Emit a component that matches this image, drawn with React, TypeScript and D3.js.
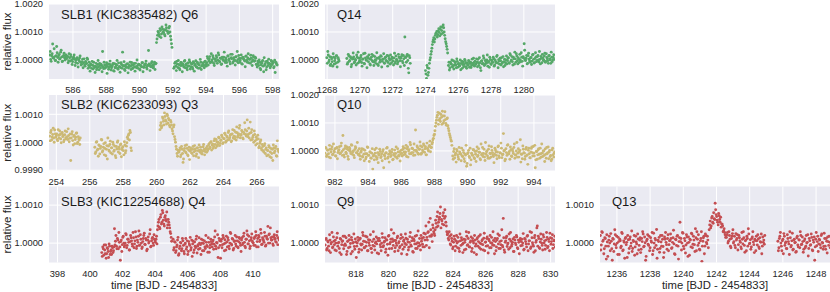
import React from "react";
import * as d3 from "d3";

// Kepler long-cadence light curves around the self-lensing pulses.
// Flux values are offsets from 1 in units of 1e-5 (flux = 1 + v * 1e-5).
// Each segment holds two interleaved sample runs: v starts at t0, w half a step later.
const CADENCE = 0.06;

// SLB1 Q6
const q6A = [18, 2, 14, 57, 6, 12, -2, 48, 9, 15, 3, 28, 11, -4, 16, 7, 10,
  4, 13, -3, 8, 19, 0, -6, 10, 2, -9, 5, -12, 1, 7, -8, -15, 3, -10, -18, -5, -13, 2, -20,
  -25, -14, -30, -19, -8, -27, -22, -35, -16, -24, -12, -29, -20, 30, -31, -18, -26, -10, -23, -33,
  -15, -21, -28, -17, -38, -13, -25, -19, -30, -11, -24, -27, -16, 28, -22, -34, -18, -26, -14, -29,
  -20, -23, -9, -31, -17, -25, -12, -28, -21, -15, -32, -19, -24, -10, -26, -18, -13, -27, -20, 34,
  -16, -23, -11, -19, -25, -8, -14];
const q6A2 = [30, -5, 22, 8, 40, -2, 15, 26, -8, 20, 5, 35, -6, 12, 24, 0, 18,
  10, -10, 22, -4, 12, -16, 5, 18, -20, 0, 8, -25, -3, 14, -18, -6, -28, 4, -22, -12, 6, -30, -8,
  -40, -18, -5, -32, -22, -45, -12, -28, -2, -35, -20, -15, -42, -25, -8, -30, -18, -48, -14, -26,
  -4, -36, -22, -12, -40, -28, -16, -2, -33, -24, -44, -10, -30, -20, -6, -38, -26, -14, -46, -22,
  -8, -34, -18, -28, -12, -40, -24, 0, -30, -16, -36, -22, -10, -42, -26, -18, -4, -32, -20, -14,
  -38, -24, -6, -28, -16, -34, -12];
const q6B = [62, 88, 97, 84, 105, 93, 110, 99, 91, 107, 115, 102, 96, 120, 85, 58];
const q6B2 = [75, 102, 90, 112, 80, 118, 98, 108, 86, 125, 104, 95, 114, 100, 72, 45];
const q6C = [-30, -12, -22, -5, -27, -16, -35, -9, -20, -14, -25, -2, -18, -28, -11, -21, -7, -24, -15, -32,
  -10, -19, -3, -26, -13, -17, -29, -8, -22, -14, -20, -6, -16,
  -10, 5, -4, 12, -8, 0, 15, -12, 3, -5, 9, -1, 18, -7, 6, -14, 2, 10, -3, 7, -9, 14, 0, -6, 20,
  4, -11, 8, -2, 11, -5, 1, 16, -8, 5, -13, 9, 3, -4, 13, -1, 7, -10, 2, 17, -6, 0, 10, -3, 6,
  -15, -4, -20, -8, -35, -12, -2, -42, -18, -6, -25, -10, 3, -14, -22, -5, -11, -28, -1, -9, -16];
const q6C2 = [-25, -8, -38, -15, -2, -30, -20, -10, -42, -18, -5, -28, -14, -35, -22, 0, -32, -12, -26, -6,
  -40, -16, -24, -8, -30, -18, 2, -34, -20, -10, -28, -4, -22,
  12, -18, 4, -10, 22, -6, 8, -20, 2, 15, -12, 25, -4, 6, -16, 10, -2, 28, -9, 0,
  -22, 14, 4, -14, 8, 20, -6, 1, -18, 12, 30, -10, 5, -3, 18, -15, 9, 0, -24, 14,
  -8, 22, 3, -12, 6, -20, 15, -5, 10, -16,
  -25, -10, 0, -30, -18, -6, -22, 8, -14, -35, -4, -20, -12, -28, -2, -16, -8, -24, -45, -10, -18];

// SLB1 Q14
const q14A = [8, 30, -6, 12, -15, 4, -22, 10, -3, -12, 15, -8, 2];
const q14A2 = [-12, 18, 0, -20, 10, -6, 22, -15, 5, 14, -25, 8, -4];
const q14B = [5, -10, 14, -2, 8, -16, 3, 11, -7, 0, 18, -12, 6, -4, 9, -9, 2, 22, -14, 7,
  -1, 12, -6, 4, -18, 10, -3, 15, -8, 1, -13, 6, -20, 9, 0, 13, -5, 3, -11, 8,
  -2, 16, -9, 5, -15, 2, 10, -4, 7, -12, 14, 0, -7, 11, -3, 6, 19, -10, 4, 82, 9, 14, -2, -46, 8];
const q14B2 = [-15, 20, -5, 12, -24, 6, 25, -10, 2, -18, 10, 28, -8, -2, 16, -22, 4, -12, 24, 0,
  -28, 8, 18, -14, 2, 20, -6, -20, 12, -2, 26, -16, 6, -8, 15, -25, 3, 22, -12, 10,
  -4, -22, 14, 0, 18, -10, 6, -18, 24, -6, 2, -14, 20, 8, -24, 12, -4, 16, -20, 10,
  -8, 20, -30, 15, -12];
const q14C = [-38, -66, -28, -45, -12, 8, 30, 55, 72, 64, 88, 95, 82, 104, 98, 110, 92, 118, 125, 100, 76, 58, 38];
const q14C2 = [-50, -20, -55, -30, 0, 20, 42, 65, 80, 75, 95, 102, 90, 112, 86, 118, 105, 96, 115, 88, 65, 48, 25];
const q14D = [-20, -36, -8, -15, -25, -3, -18, -10, -28, -5, -14, -22, 0, -12, -30, -7, -16, -2, -24, -11,
  -19, -6, -13, -27, 3, -17, -9,
  -4, -14, -8, 2, -20, -10, -38, -3, -12, 6, -16, -7, 0, -22, -5, 10, -13, -1, -9, 4, -18, -6, 12,
  -11, 1, -15, -3, 8, -8, -24, 3, -10, 14,
  -2, 7, -12, 18, 0, -6, 10, -15, 4, 22, -3, 8, -9, 1, 26, -5, 12, 58, -1, 6, -14, 15, 3, -8, 9,
  -4, 20, -11, 5, 11, -2, 16, -7, 2, 13, -10, 7, 0, 24, -5, 9, -3, 14, 4, -12, 10, 1, 19];
const q14D2 = [-8, -28, -14, 0, -22, -32, -6, -18, 4, -26, -12, -20, -35, -4, -16, -24, 2, -10, -30, -15,
  -2, -26, -8, -20, -12, 6, -22,
  -16, 4, -24, -10, 8, -28, -4, -14, 14, -20, -2, -12, 18, -8, -26, 2, -16, -6, 10, -22,
  0, -10, 16, -28, -4, 6, -18, -12, 12, -6, -20, 0, -14,
  8, -10, 22, -4, 12, -18, 4, 28, -8, 14, -14, 2, 20, -6, 10, -22, 6, 35, -2, 16,
  -12, 24, -4, 8, -16, 18, 2, -10, 26, -6, 12, 0, 30, -14, 6, 20, -2, 14, -8, 22,
  4, -12, 16, 0, 28, -6, 10, 2];

// SLB2 Q3
const q3A = [22, 35, 8, 28, 15, 44, 18, 30, 5, 25, 40, 12, 32, 20, 2, 27, 16, 38, 10, 24,
  14, -65, 29, 6, 21, -5, 18, 33, 0, 12, -8];
const q3A2 = [5, 42, 18, 50, 0, 30, 22, 10, 45, 15, 28, -2, 35, 25, 8, 40, 12, 20, 48, 2,
  30, 15, 38, -10, 24, 10, 32, -5, 20, 8, 15];
const q3B = [-18, -35, 2, -25, -10, -42, -15, 8, -30, -5, -22, -48, -12, 15, -28, -8, -38, -20, 0, -32,
  -14, -55, -24, 5, -18, -40, -6, -26, -16, -45, -10, -30, -2, 12, 30, 42, -20];
const q3B2 = [-40, 0, -28, -50, -12, -22, 10, -35, -18, -45, -2, -25, -60, -14, -32, 4, -20, -42, -8, -28,
  -48, -15, 0, -35, -24, -10, -52, -20, -30, 2, -38, -14, 18, 25, 8, 35, -30];
const q3C = [45, 70, 58, 85, 62, 92, 75, 100, 68, 80, 55, 72,
  48, 30, 62, 10, -15, -40, -28,
  -35, -20, -45, -25, -72, -30, -12, -38, -22, -48, -18, -32, -26, -40, -15, -34, -24, -50, -20, -30,
  -10, -36, -28, -42, -16, -26, -33, -22,
  -15, -25, -5, -18, 2, -10, -22, 5, -8, 10, -14, 0, 15, -4, 8, 20, -2, 12, 28, 4,
  18, 35, 10, 24, 2, 30, 15, 42, 20, 8, 34, 25, 50, 16, 28, 38, 12, 30, 45, 22,
  80, 28, 15, 72, 35, 10, 24, 40, 5, 18, -5, 12, -15, 2, -22, -8, -30, -12, -40, -20,
  -28, -45, -18, -35, -55, -25, -10, -38, -22, -48, 5, -30];
const q3C2 = [60, 52, 90, 75, 105, 80, 65, 95, 85, 60, 78, 62,
  40, 55, 20, 0, -25, -50, -35,
  -28, -52, -15, -40, -60, -22, -35, -10, -45, -28, -62, -20, -38, -25, -48, -12, -30, -42, -20, -55,
  -28, -18, -40, -32, -8, -45, -24, -36,
  -30, -10, -22, 0, -28, -6, -15, 12, -20, 2, -8, 18, -12, 6, 25, -5, 14, 32, 0, 22,
  8, 40, 16, 28, 5, 45, 22, 12, 36, 55, 18, 30, 60, 25, 42, 15, 35, 70, 28, 40,
  20, 50, 32, 8, 45, 18, 0, 28, -10, 10, 25, -20, -4, 8, -28, -15, -35, -5, -25, -48,
  -30, -12, -52, -22, -40, -65, -20, -32, -15, -50, -25, -35];

// SLB2 Q10
const q10A = [-8, 10, -15, 3, -22, 6, -4, 15, -12, 0, 8, -18, 12, -6, 4, -10, 18, -2, 55, -14,
  9, -5, 14, -20, 2, 7, -9, 20, -3, -16, 5, 11, -7, 1, -12,
  -18, -5, 8, -22, -12, 2, -28, -10, 12, -16, -4, -25, -8, -65, -14, 4, -20, -30, -6, -15,
  6, -24, -10, -2, -60, -18, -8, 10, -26, -12, 0, -20, -5, -32, -14, 3, -9, -22, 8, -16, -3, -11,
  -8, 5, -14, 10, -4, -20, 14, 0, -10, 22, -6, 8, -16, 2, 75, -2, 12, -12, 6, 18,
  -8, 3, 25, -5, 15, -14, 9, 0, 20, -3, 12, 30, 45];
const q10A2 = [12, -20, 2, -10, 20, -25, 6, -14, 25, -4, -18, 10, -28, 0, 15, -8, 28, -16, 4, -22,
  18, -10, 6, -30, 12, -2, 22, -12, 0, -24, 15, -6, 30, -14, 8,
  -30, 0, -20, 6, -35, -10, -22, 14, -15, -38, -4, -26, 8, -18, -32, -8, 10, -24, -42, -12,
  -2, -20, -35, 4, -14, -28, -6, 12, -22, -40, -8, -16, 5, -30, -10, -20, 14, -26, -4, -18,
  -36, 2,
  -18, 15, -4, -12, 20, 8, -22, 4, 30, -10, 10, -6, 25, -15, 2, 18, -8, 6, 32, -12,
  14, -2, 20, 8, -14, 28, 4, 16, 35, 12, 25, 40, 55];
const q10B = [60, 88, 110, 128, 95, 135, 105, 120, 142, 100, 125, 112, 92, 118, 80, 62, 48, 35];
const q10B2 = [72, 100, 120, 138, 110, 115, 130, 95, 125, 108, 140, 98, 115, 90, 72, 55, 40, 20];
const q10C = [-18, -2, -25, -8, 5, -14, -30, -4, -12, 10, -20, -6, -38, -15, -55, -10, 2, -24, -50, -8,
  -16, 4, -28, -12, 0, -20, 8, -5, -32, -14, 12, -9, -22, 30, -3, -18, 6, -26, -10, 15,
  -6, -20, -12, 3, -16, -4, 18, -24, -8, 10, -14, 62, 2, -30, -6, 20, -11, -2, 14, -18,
  5, -9, 25, -15, 0, -22, 8, -4, 40, -12, -28, 6, -8, -20, 12, -14, 2, -10, -25, 9,
  -6, 16, -18, -60, -2, -30, 4, -12, 10, -22, -8, 0, -16, 7, -26, -10, 14, -4, -20, -35,
  3, -14, -8];
const q10C2 = [-30, 8, -15, -40, 0, -22, 12, -8, -35, -18, 2, -28, -12, 20, -45, -6, -20, 10, -32, -14,
  4, -24, -2, -38, 14, -16, -5, -28, 25, -10, -20, 6, -34, -12, 0, -26, 18, -8, -22, 2,
  -15, -42, 10, -4, -28, 15, -18, -6, 28, -24, -12, 0, -35, 8, -16, 22, -10, -30, 4, -20,
  -2, 12, -26, -14, 30, -8, -22, 2, -40, -12, 18, -6, -30, 6, -16, -48, 10, -24, -4, 14,
  -18, -8, 20, -32, -2, -14, 8, -26, -10, 25, -20, 0, -38, -12, 12, -6, -28, 2, -16, -30,
  10, -22, -4];

// SLB3 Q4
const q4A = [-25, -10, -32, -18, -5, -28, -15, -38, -8, -22, -30, -12, -20,
  38, 5, -8, 12, -15, 2, -45, 8, -4, 18, -10, 0, 22, -6, 10, -18, 4, 14, -2, 28,
  -12, 6, 16, -8, 2, 32, -5, 10, -14, 4, 20, -3, 12, -20, 8, 0, 24, -10, 6, 15, -6, 10, 2, 18];
const q4A2 = [-35, -15, -5, -28, -40, -12, -22, -2, -30, -18, -8, -25, -10,
  -5, 20, -15, 8, 28, -10, 4, -22, 15, 0, -6, 25, -12, 10, 2, -18, 20, 6, -8, 14,
  -2, 30, -14, 8, 18, -6, 22, 0, -10, 12, 26, -4, 8, -16, 16, 4, 35, -8, 12, 0, 22, 6, 10, -2];
const q4B = [35, 55, 42, 68, 50, 86, 60, 45, 72, 58, 40, 62, 48, 30, 15];
const q4B2 = [45, 62, 38, 75, 55, 80, 50, 68, 62, 82, 48, 55, 40, 25, 5];
const q4C = [10, -12, 2, -20, -5, 15, -28, -8, 0, -15, 6, -22, -3, 12, -10, -30, 4, -6, -18, 8,
  -2, -25, 3, -12, 18, -8, -16, 0, -4, 10, -20, -1, 6, -14, 2, -9, 14, -24, -5, 4,
  -10, 8, -3, 32, -15, 0, -38, 12, -6, 5, -12, 20, -2, 9, -18, 3, 14, -8, 0, 25,
  -5, 10, -14, 6, -2, 16, -10, 4, 12, -6,
  8, -4, 18, 2, -12, 10, 22, -2, 6, -8, 14, 6, 0, 12, -6, 20, 4, -10, 16, 8,
  26, -3, 10, 2, 18, -5, 12, 44, 22, 0, 14, 8, -2, 16, 10, 4, 20, -4, 12];
const q4C2 = [-18, 4, -25, -10, 8, -32, -14, 2, -20, 12, -6, -28, 0, -16, 6, -22, -2, 15, -12, -35,
  5, -18, -8, 10, -26, -4, 14, -14, -30, 0, 8, -20, -10, 20, -6, -24, 2, -12, 10, -2,
  4, -16, 16, -8, 2, 22, -12, 6, -40, 10, -4, 14, -20, 0, 18, -10, 8, -15, 28, -2,
  12, -18, 4, 20, -8, 6, -12, 15, 0, -22,
  14, 0, 26, -8, 10, 32, -2, 18, -14, 8, 24, 2, -6, 16, 30, -10, 12, 20, 4, 36,
  -4, 14, 6, 28, -8, 18, 10, 0, 24, 40, 8, 16, -6, 22, 12, 2, 30, 14, 8];

// SLB3 Q9
const q9A = [-5, 12, -14, 3, -20, 8, -2, 28, -10, 5, -18, 0, 14, -8, 2, -25, 10, -4, 6, -15,
  18, -6, -30, 4, -12, 9, -1, 15, -22, 2, -9, 11, -38, 0, 7, -16, 13, -5, -3, 20,
  -12, 4, -8, 16, -20, 1, 8, -14, -25, -6, 10, -18, 3, -2, 12, -28, 6, -10, 0, 15,
  -7, 5, -24, 9, -3, 18, -15, 2, 35, 11, -6, 7, -12, 0, 14, -20, 4, -9, 22, -4,
  -16, 8, -1, 13, -30, 3, -11, 17, -5, 6, -22, 10, -2, -14, 20, 1, -8, 12, -18, 5,
  -3, 15, -10, 24, -6, 8, 30, -12, 65, 18, 4, 40, 25];
const q9A2 = [10, -18, 6, -8, 22, -25, 2, -12, 16, -4, 8, -20, 26, 0, -14, 12, -30, 4, 18, -6,
  -2, 14, -22, 6, 20, -10, -28, 8, 0, 24, -16, 3, -8, 15, -24, 10, -2, -18, 28, 5,
  -12, 18, 2, -20, 9, -6, 22, -14, 4, 30, -8, 0, 16, -26, 6, 12, -4, -20, 25, -10,
  2, 14, -16, 8, -32, 20, -2, 10, -14, 4, 26, -22, 7, -6, 18, 0, -12, 12, -28, 15,
  5, -10, 24, -4, 10, -18, 2, 28, -8, 14, -24, 6, 18, -2, -14, 32, 0, -6, 20, 12,
  -10, 26, 8, 45, 15, 28, 55, 18, 35, 22, 48, 30, 20];
const q9B = [35, 52, 70, 45, 62, 78, 40, 58, 72, 48, 88, 55, 30];
const q9B2 = [60, 42, 82, 55, 68, 95, 62, 50, 80, 65, 70, 45, 22];
const q9C = [25, 8, 18, -5, 12, -15, 2, 10, -8, 20, -12, 4, -22, 6, 14, -3, 0, -18, 9, 30,
  -6, 12, -10, 2, 16, -14, 5, -25, 8, -2, 11, -8, 18, 0, -16, 6, -4, 13, -20, 3,
  12, -7, 10, -12, 1, 15, -5, 7, -28, 4, -10, 12, -2, 20, -14, 6, -6, 65, -18, 2,
  14, -9, 0, 24, -12, 5, -3, 11, -22, 8, -4, 16, -15, 2, 8, -7, 10, 0, -18, 12,
  4, -10, 20, -2, 6, -14, 28, 1, -8, 14, -20, 7, 45, 18, -12, 3, 10, -6, 22, 0,
  -16, 8, 15, -9, 4, 26, -3, 12, -14, 6, 18];
const q9C2 = [12, 30, -2, 22, 5, -10, 18, -20, 6, 0, 15, -14, 24, -6, 8, -25, 10, 2, -16, 18,
  -4, 28, -10, 6, -22, 12, 0, 20, -8, -30, 14, 4, -12, 22, -2, 9, -18, 26, 2, -8,
  16, -26, 6, 20, -12, 0, 30, -6, 12, -20, 8, 24, -14, 4, -4, 35, -10, 14, -24, 6,
  18, -2, -16, 10, 28, -8, 2, -22, 15, 0, 20, -12, 8, -28, 12, 4, -6, 25, -16, 10,
  -2, 18, -20, 6, 30, -10, 14, -4, -24, 20, 2, 40, -8, 12, -14, 24, 0, -18, 16, 6,
  -6, 28, -12, 10, -20, 14, 4, 22, -4, 8, -10];

// SLB3 Q13
const q13A = [20, -5, 28, 8, -15, 12, -42, 3, -8, 18, -20, 5, -45, 10, -2, 22, -12, 0, 15, -30,
  6, -8, 25, -18, 2, 12, -4, -38, 9, -14, 16, 0, -22, 7, 20, -10, 3, -28, 11, -6,
  14, -16, 4, 24, -8, 1, -35, 10, -3, 18, -12, 6, 28, -20, 0, 12, -6, -40, 8, 15,
  -14, 3, 20, -9, -25, 10, 2, -16, 22, -4, 7, 12, -12, 14, -2, -30, 9, 18, -8, 4,
  55, 12, 0, 26, -15, 6, -5, 16, -35, 2, 10, -10, 24, -3, 8, -22, 14, 30, -6, 0,
  -18, 12, -48, 5, 18, -8, 20, -2, 8];
const q13A2 = [-18, 30, 5, -28, 14, -8, 22, -35, 8, 0, 25, -15, 12, -22, 35, -5, 18, -30, 4, 10,
  -12, 28, -20, 6, -40, 15, 2, 20, -26, 10, -8, 32, -14, 4, -32, 18, -2, 24, -18, 8,
  -25, 12, 30, -10, 16, -45, 6, 22, -6, -20, 14, 2, -30, 26, -12, 8, 36, -16, 4, -24,
  20, -8, 10, -38, 16, 28, -4, 12, -20, 6, 24, -14, 2, 34, -28, 10, -6, 20, -42, 14,
  4, -18, 28, -8, 12, -26, 22, 0, 16, -32, 8, 26, -12, 18, -4, 38, -20, 10, 22, -16,
  6, 30, -8, 14, -28, 24, 2, 18, -12];
const q13B = [35, 58, 45, 70, 52, 64, 105, 75, 60, 48, 72, 55, 42, 50, 30, 38, 22];
const q13B2 = [48, 40, 66, 55, 80, 62, 88, 70, 55, 78, 62, 68, 50, 45, 32, 28, 15];
const q13C = [15, 28, 5, 20, -8, 12, 25, 0, 18, -12, 8, 22, -4, 14, 2, -15, 10, 30, -6, 6,
  -20, 12, 38, -2, 9, -10, 16, 3, -25, 7, 18, -5, 11, -14, 4, 24, -8, 2, -3];
const q13C2 = [22, 0, 30, 10, -12, 18, 35, 4, -6, 25, 12, -18, 20, 6, -10, 28, -2, 14, -24, 8,
  18, -8, 24, 0, -16, 12, 30, -4, 10, -20, 6, 22, -10, 14, 2, -28, 16, 8, 20];
const q13D = [5, -12, 18, 0, -20, 10, 25, -6, 3, -15, 12, -2, 30, -10, 6, -18, 8, 1, -24, 14,
  -5, 9, -12, 20, -3, 4, -16, 11, -8, 0, 22, -14, 6, -4, 15, -20, 2, -45, 10, -7,
  18, -2, 8, -12, 24, 0, -9, 12, -16, 5, 16, -6, 2];
const q13D2 = [-20, 12, 28, -8, 6, -28, 18, 0, -14, 22, 4, -30, 14, -6, 26, -16, 10, 2, -22, 18,
  -10, 8, 30, -4, 16, -24, 6, -12, 20, 2, -34, 12, -6, 24, -18, 8, 16, -10, 28, 4,
  -22, 10, -4, 20, 2, -16, 26, -8, 12, -26, 4, 18, -12];

// tick labels
const ticksQ6 = [586, 588, 590, 592, 594, 596, 598];
const ticksQ14 = [1268, 1270, 1272, 1274, 1276, 1278, 1280];
const ticksQ3 = [254, 256, 258, 260, 262, 264, 266];
const ticksQ10 = [982, 984, 986, 988, 990, 992, 994];
const ticksQ4 = [398, 400, 402, 404, 406, 408, 410];
const ticksQ9 = [818, 820, 822, 824, 826, 828, 830];
const ticksQ13 = [1236, 1238, 1240, 1242, 1244, 1246, 1248];
const fluxTicksTop = [1.002, 1.001, 1.0];
const fluxTicksWide = [1.001, 1.0, 0.999];
const fluxTicksLow = [1.001, 1.0];

const GREEN = "#55a868";
const GOLD = "#ccb974";
const RED = "#c44e52";

const COLS = [49, 325, 600];
const PANEL_W = 230;
const ROWS = [
  { top: 4, bottom: 79, titleY: 18.5 },
  { top: 95, bottom: 170.5, titleY: 109.3 },
  { top: 186.5, bottom: 262.5, titleY: 206 },
];
const FONT = "'Liberation Sans', Arial, sans-serif";
const INK = "#262626";

const panels = [
  { id: "q6", title: "SLB1 (KIC3835482) Q6", color: GREEN, col: 0, row: 0,
    x: [584.56, 598.38], y: [0.99932, 1.002], xTicks: ticksQ6, yTicks: fluxTicksTop,
    segs: [{ t0: 584.6, v: q6A, w: q6A2 }, { t0: 591.02, v: q6B, w: q6B2 }, { t0: 592.06, v: q6C, w: q6C2 }] },
  { id: "q14", title: "Q14", color: GREEN, col: 1, row: 0,
    x: [1267.87, 1281.9], y: [0.99932, 1.002], xTicks: ticksQ14, yTicks: fluxTicksTop,
    segs: [{ t0: 1267.98, v: q14A, w: q14A2 }, { t0: 1269.2, v: q14B, w: q14B2 },
      { t0: 1274.0, v: q14C, w: q14C2 }, { t0: 1275.4, v: q14D, w: q14D2 }] },
  { id: "q3", title: "SLB2 (KIC6233093) Q3", color: GOLD, col: 0, row: 1,
    x: [253.56, 267.32], y: [0.99899, 1.00169], xTicks: ticksQ3, yTicks: fluxTicksWide,
    segs: [{ t0: 253.6, v: q3A, w: q3A2 }, { t0: 256.3, v: q3B, w: q3B2 }, { t0: 260.2, v: q3C, w: q3C2 }] },
  { id: "q10", title: "Q10", color: GOLD, col: 1, row: 1,
    x: [981.4, 995.27], y: [0.9993, 1.002], xTicks: ticksQ10, yTicks: fluxTicksTop,
    segs: [{ t0: 981.4, v: q10A, w: q10A2 }, { t0: 988.0, v: q10B, w: q10B2 }, { t0: 989.1, v: q10C, w: q10C2 }] },
  { id: "q4", title: "SLB3 (KIC12254688) Q4", color: RED, col: 0, row: 2,
    x: [397.48, 411.6], y: [0.99949, 1.00149], xTicks: ticksQ4, yTicks: fluxTicksLow,
    segs: [{ t0: 400.72, v: q4A, w: q4A2 }, { t0: 404.14, v: q4B, w: q4B2 }, { t0: 405.1, v: q4C, w: q4C2 }] },
  { id: "q9", title: "Q9", color: RED, col: 1, row: 2,
    x: [816.09, 830.27], y: [0.99949, 1.00149], xTicks: ticksQ9, yTicks: fluxTicksLow,
    segs: [{ t0: 816.1, v: q9A, w: q9A2 }, { t0: 822.88, v: q9B, w: q9B2 }, { t0: 823.66, v: q9C, w: q9C2 }] },
  { id: "q13", title: "Q13", color: RED, col: 2, row: 2,
    x: [1234.98, 1248.84], y: [0.99949, 1.00149], xTicks: ticksQ13, yTicks: fluxTicksLow,
    segs: [{ t0: 1235.0, v: q13A, w: q13A2 }, { t0: 1241.56, v: q13B, w: q13B2 },
      { t0: 1242.6, v: q13C, w: q13C2 }, { t0: 1245.7, v: q13D, w: q13D2 }] },
];

function Panel({ p }) {
  const left = COLS[p.col];
  const { top, bottom, titleY } = ROWS[p.row];
  const xScale = d3.scaleLinear().domain(p.x).range([left, left + PANEL_W]);
  const yScale = d3.scaleLinear().domain(p.y).range([bottom, top]);
  const pts = p.segs.flatMap((s) => [
    ...s.v.map((v, i) => [s.t0 + i * CADENCE, 1 + v * 1e-5]),
    ...s.w.map((v, i) => [s.t0 + (i + 0.5) * CADENCE, 1 + v * 1e-5]),
  ]);
  const xt = p.xTicks.filter((t) => t >= p.x[0] && t <= p.x[1]);

  return (
    <g>
      <defs>
        <clipPath id={"clip-" + p.id}>
          <rect x={left} y={top} width={PANEL_W} height={bottom - top} />
        </clipPath>
      </defs>
      <rect x={left} y={top} width={PANEL_W} height={bottom - top} fill="#eaeaf2" />
      <g stroke="#fff" strokeWidth={1}>
        {xt.map((t) => (
          <line key={"gx" + t} x1={xScale(t)} x2={xScale(t)} y1={top} y2={bottom} />
        ))}
        {p.yTicks.map((t) => (
          <line key={"gy" + t} x1={left} x2={left + PANEL_W} y1={yScale(t)} y2={yScale(t)} />
        ))}
      </g>
      <g clipPath={`url(#clip-${p.id})`} fill={p.color}>
        {pts.map((d, i) => (
          <circle key={i} cx={xScale(d[0])} cy={yScale(d[1])} r={1.45} />
        ))}
      </g>
      <g fontFamily={FONT} fontSize={9.3} fill={INK}>
        {xt.map((t) => (
          <text key={"tx" + t} x={xScale(t)} y={bottom + 14} textAnchor="middle">{t}</text>
        ))}
        {p.yTicks.map((t) => (
          <text key={"ty" + t} x={left - 6} y={yScale(t)} dy="0.35em" textAnchor="end">{t.toFixed(4)}</text>
        ))}
      </g>
      <text x={left + 12} y={titleY} fontFamily={FONT} fontSize={13} fill="#1a1a1a">{p.title}</text>
    </g>
  );
}

export default function App() {
  return (
    <svg width={830} height={292} style={{ position: "absolute", left: 0, top: 0, background: "#fff" }}>
      {panels.map((p) => (
        <Panel key={p.id} p={p} />
      ))}
      {ROWS.map((r, i) => (
        <text key={"yl" + i} transform={`translate(10.5, ${(r.top + r.bottom) / 2}) rotate(-90)`}
          textAnchor="middle" fontFamily={FONT} fontSize={11.5} fill={INK}>relative flux</text>
      ))}
      {COLS.map((c) => (
        <text key={"xl" + c} x={c + PANEL_W / 2} y={288.5} textAnchor="middle"
          fontFamily={FONT} fontSize={11.3} fill={INK}>time [BJD - 2454833]</text>
      ))}
    </svg>
  );
}
